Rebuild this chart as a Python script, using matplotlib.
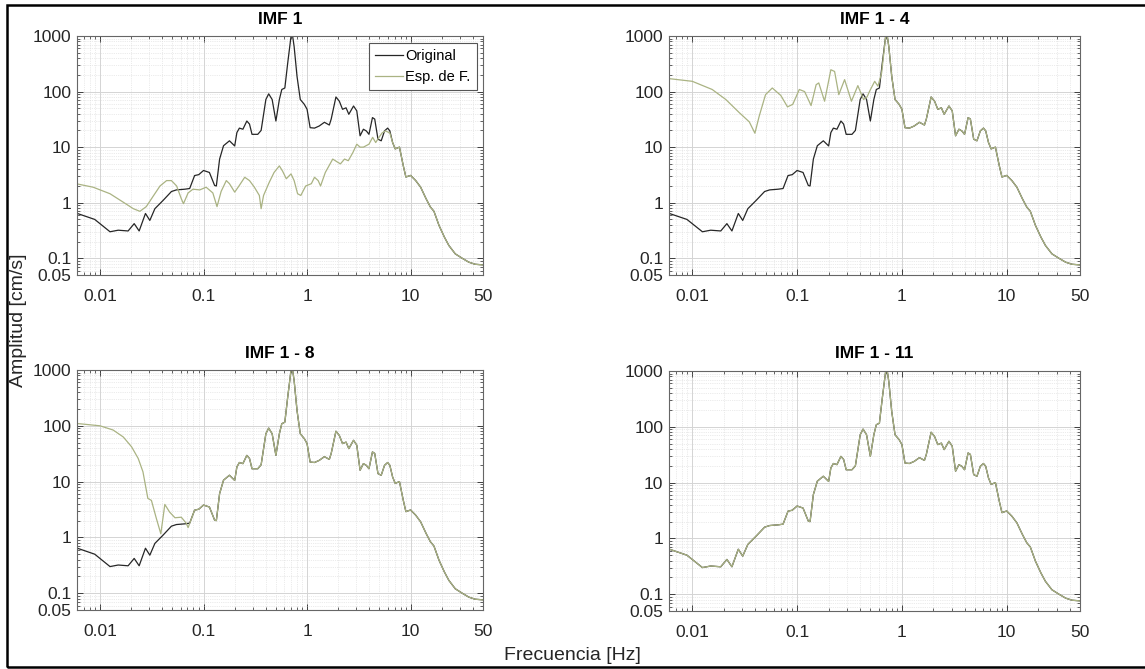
import numpy as np
import matplotlib
matplotlib.use("Agg")
import matplotlib.pyplot as plt
from matplotlib.ticker import FixedLocator, FixedFormatter, LogLocator, NullFormatter
from matplotlib.patches import Rectangle

plt.rcParams["font.family"] = ["Liberation Sans", "DejaVu Sans"]

# Original spectrum
freq_orig = [0.00605, 0.0089, 0.0125, 0.015, 0.0187, 0.0214, 0.0239, 0.0275, 0.0303,
             0.0339, 0.0407, 0.049, 0.0547, 0.066, 0.0735, 0.082, 0.090, 0.1, 0.114,
             0.128, 0.133, 0.143, 0.156, 0.178, 0.2, 0.21, 0.222, 0.24, 0.262, 0.278,
             0.294, 0.334, 0.36, 0.40, 0.426, 0.46, 0.50, 0.54, 0.57, 0.61, 0.65, 0.70,
             0.725, 0.75, 0.80, 0.86, 0.94, 1.0, 1.07, 1.18, 1.31, 1.47, 1.64, 1.71,
             1.90, 2.05, 2.2, 2.38, 2.53, 2.81, 3.02, 3.25, 3.5, 3.74, 3.96, 4.28, 4.5,
             4.84, 5.2, 5.6, 6.0, 6.3, 6.7, 7.1, 7.8, 8.5, 9.0, 10, 11.2, 12.5, 14.1,
             15.5, 16.8, 18.8, 21.2, 23.4, 27, 31.5, 36.5, 42, 50]
amp_orig = [0.64, 0.50, 0.30, 0.32, 0.31, 0.42, 0.31, 0.64, 0.48,
            0.78, 1.1, 1.59, 1.7, 1.75, 1.8, 3.08, 3.2, 3.8, 3.5,
            2.04, 2.0, 6.1, 10.6, 13, 10.5, 18.3, 22, 21, 29.5, 26,
            17, 17, 20, 72, 91, 72, 29.5, 72, 109, 116, 325, 990,
            1000, 645, 187, 72, 59, 48, 22.4, 22, 24, 28, 25, 32,
            80, 67, 48, 51, 39, 55, 45, 16, 21, 19.5, 17, 34, 32,
            13.9, 13, 19.6, 22, 19.6, 12.1, 9.3, 10, 4.6, 2.9, 3.1, 2.5, 1.9, 1.18,
            0.84, 0.70, 0.39, 0.24, 0.17, 0.12, 0.1, 0.085, 0.078, 0.076]

# IMF 1 spectrum, below the point where it joins the original
freq_imf1 = [0.006, 0.0086, 0.0125, 0.0168, 0.021, 0.0243, 0.028, 0.033, 0.038, 0.044,
             0.049, 0.055, 0.061, 0.064, 0.071, 0.079, 0.092, 0.106, 0.123, 0.135,
             0.148, 0.166, 0.178, 0.20, 0.22, 0.25, 0.278, 0.31, 0.346, 0.36, 0.38,
             0.43, 0.48, 0.54, 0.58, 0.63, 0.70, 0.75, 0.81, 0.87, 0.97, 1.1, 1.18,
             1.28, 1.35, 1.5, 1.77, 1.96, 2.1, 2.3, 2.5, 2.77, 3.02, 3.25, 3.5, 3.96,
             4.3, 4.6, 4.95, 5.3, 5.7, 6.3]
amp_imf1 = [2.18, 1.9, 1.45, 1.02, 0.78, 0.70, 0.85, 1.35, 2.0, 2.5,
            2.5, 2.0, 1.18, 0.96, 1.5, 1.75, 1.7, 1.9, 1.5, 0.85,
            1.6, 2.5, 2.2, 1.55, 2.0, 2.87, 2.5, 1.9, 1.35, 0.78, 1.35,
            2.3, 3.5, 4.6, 3.7, 2.7, 3.3, 2.5, 1.45, 1.35, 2.0, 2.2, 2.87,
            2.5, 2.0, 3.5, 6.1, 5.4, 5.0, 6.1, 5.7, 8.0, 11.3, 10, 10, 11.3,
            15, 12.1, 15, 18, 19.6, 18]

# IMF 1-4 spectrum, low frequency part
freq_imf14 = [0.006, 0.01, 0.0155, 0.0209, 0.028, 0.035, 0.0396, 0.0435, 0.050, 0.058,
              0.070, 0.081, 0.091, 0.105, 0.118, 0.136, 0.152, 0.161, 0.183, 0.21,
              0.228, 0.25, 0.284, 0.33, 0.38, 0.43, 0.465, 0.49, 0.55, 0.59, 0.64]
amp_imf14 = [171, 153, 109, 72, 42, 28.5, 17.8, 36, 88, 116,
             85, 53, 59, 109, 100, 56, 133, 143, 67, 247,
             230, 88, 164, 67, 128, 72, 80, 100, 153, 125, 215]

# IMF 1-8 spectrum, low frequency part
freq_imf18 = [0.006, 0.01, 0.0134, 0.0168, 0.0202, 0.0234, 0.026, 0.029, 0.0314, 0.035,
              0.0387, 0.0423, 0.047, 0.053, 0.061, 0.068, 0.071]
amp_imf18 = [110, 100, 84, 63, 42, 26, 15, 5.0, 4.6, 2.2,
             1.16, 3.9, 2.85, 2.25, 2.3, 1.8, 1.5]

titles = ["IMF 1", "IMF 1 - 4", "IMF 1 - 8", "IMF 1 - 11"]
xticks = [0.01, 0.1, 1, 10, 50]
yticks = [0.05, 0.1, 1, 10, 100, 1000]


def join(f_low, a_low, f_from):
    fo = np.asarray(freq_orig)
    ao = np.asarray(amp_orig)
    keep = fo >= f_from
    return np.concatenate([f_low, fo[keep]]), np.concatenate([a_low, ao[keep]])


green = [
    join(freq_imf1, amp_imf1, 6.7),
    join(freq_imf14, amp_imf14, 0.70),
    join(freq_imf18, amp_imf18, 0.082),
    (np.asarray(freq_orig), np.asarray(amp_orig)),
]

c_orig = "#262626"
c_esp = "#aab383"

W, H = 1145, 669
fig = plt.figure(figsize=(W / 100, H / 100), dpi=100)

boxes = [(77, 36, 483, 275), (669, 36, 1080, 275),
         (77, 370, 483, 610), (669, 371, 1080, 611)]

for i, (x0, y0, x1, y1) in enumerate(boxes):
    ax = fig.add_axes([x0 / W, 1 - y1 / H, (x1 - x0) / W, (y1 - y0) / H])
    ax.set_xscale("log")
    ax.set_yscale("log")
    ax.plot(freq_orig, amp_orig, color=c_orig, lw=0.9, label="Original")
    gf, ga = green[i]
    ax.plot(gf, ga, color=c_esp, lw=0.9, label="Esp. de F.")
    ax.set_xlim(0.006, 50)
    ax.set_ylim(0.05, 1000)
    ax.xaxis.set_major_locator(FixedLocator(xticks))
    ax.xaxis.set_major_formatter(FixedFormatter([str(v) for v in xticks]))
    ax.yaxis.set_major_locator(FixedLocator(yticks))
    ax.yaxis.set_major_formatter(FixedFormatter([str(v) for v in yticks]))
    ax.xaxis.set_minor_locator(LogLocator(base=10, subs=np.arange(2, 10), numticks=20))
    ax.yaxis.set_minor_locator(LogLocator(base=10, subs=np.arange(2, 10), numticks=20))
    ax.xaxis.set_minor_formatter(NullFormatter())
    ax.yaxis.set_minor_formatter(NullFormatter())
    ax.grid(True, which="major", color="#d4d4d4", lw=0.7, ls="-")
    ax.grid(True, which="minor", color="#d8d8d8", lw=0.5, ls=":")
    ax.set_axisbelow(True)
    ax.tick_params(which="both", direction="in", top=True, right=True,
                   labelsize=12.5, colors="#262626")
    ax.tick_params(axis="x", pad=10)
    ax.tick_params(axis="y", pad=4)
    ax.tick_params(which="major", length=4, width=0.6)
    ax.tick_params(which="minor", length=2, width=0.5)
    for sp in ax.spines.values():
        sp.set_color("#666666")
        sp.set_linewidth(0.8)
    ax.set_title(titles[i], fontsize=12.5, fontweight="bold", pad=9)
    if i == 0:
        leg = ax.legend(loc="upper right", bbox_to_anchor=(0.985, 0.972),
                        fontsize=10.5, fancybox=False, framealpha=1,
                        edgecolor="#555555", handlelength=1.9,
                        handletextpad=0.15, borderpad=0.45, labelspacing=0.45,
                        borderaxespad=0)
        leg.get_frame().set_linewidth(0.8)

fig.text(19 / W, 1 - 320 / H, "Amplitud [cm/s]", rotation=90, ha="center",
         va="center", fontsize=14, color="#262626")
fig.text(572 / W, 1 - 655 / H, "Frecuencia [Hz]", ha="center", va="center",
         fontsize=14, color="#262626")

fig.add_artist(Rectangle((7 / W, 1 - 667 / H), 1.05, (667 - 5) / H,
                         transform=fig.transFigure, fill=False,
                         edgecolor="black", lw=1.8))

fig.savefig("out.png", dpi=100)
